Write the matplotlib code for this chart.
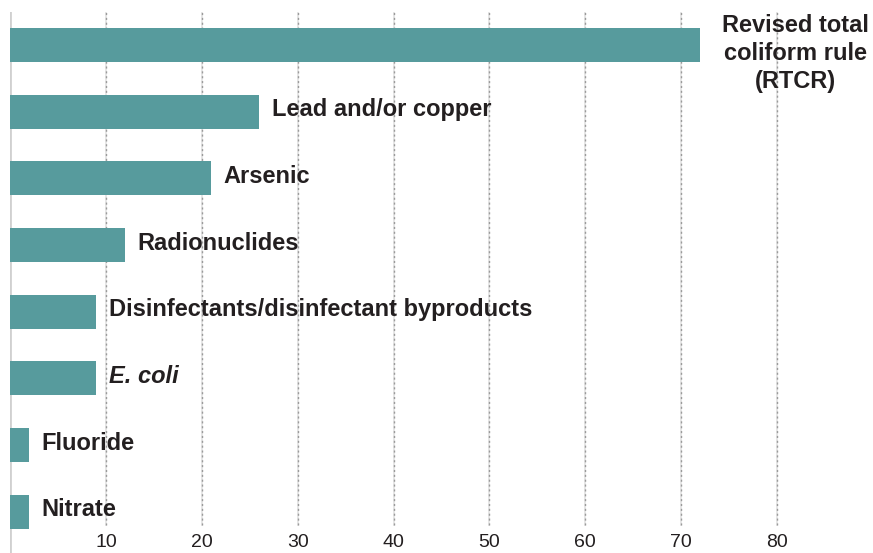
import matplotlib
matplotlib.use("Agg")
import matplotlib.pyplot as plt

categories = ["Revised total\ncoliform rule\n(RTCR)", "Lead and/or copper", "Arsenic", "Radionuclides",
              "Disinfectants/disinfectant byproducts", "E. coli", "Fluoride", "Nitrate"]
values = [72, 26, 21, 12, 9, 9, 2, 2]
xticks = [10, 20, 30, 40, 50, 60, 70, 80]

plt.rcParams['font.family'] = ['Liberation Sans', 'DejaVu Sans']
fig = plt.figure(figsize=(8.73, 5.53), dpi=100)
ax = fig.add_axes([10/873, 0, 1 - 10/873, 1 - 12/553])
bar_color = "#579b9d"
pos = list(range(len(values)))
ax.barh(pos, values, height=0.51, color=bar_color, zorder=3)
ax.set_xlim(0, 90)
ax.set_ylim(7.62, -0.495)

for x in xticks:
    ax.axvline(x, ymin=0.052, color="#e2e2e2", lw=1.2, zorder=1)
    ax.axvline(x, ymin=0.052, color="#9a9a9a", lw=1.0, ls=(0, (1.5, 2)), zorder=2)
ax.axvline(0, color="#d0d0d0", lw=2, zorder=2)

for i, (c, v) in enumerate(zip(categories, values)):
    if i == 0:
        ax.text(v + 9.9, -0.46, c, ha="center", va="top", fontsize=17, fontweight="bold",
                color="#231f20", linespacing=1.27, zorder=4)
    else:
        style = "italic" if c == "E. coli" else "normal"
        ax.text(v + 1.3, i - 0.03, c, ha="left", va="center", fontsize=17, fontweight="bold",
                style=style, color="#231f20", zorder=4)

ax.set_xticks(xticks)
ax.set_xticklabels([str(t) for t in xticks], fontsize=14, color="#231f20")
ax.tick_params(axis="x", direction="in", length=0, pad=-14)
ax.tick_params(axis="y", left=False, labelleft=False)
for s in ax.spines.values():
    s.set_visible(False)

fig.savefig("out.png", dpi=100)
